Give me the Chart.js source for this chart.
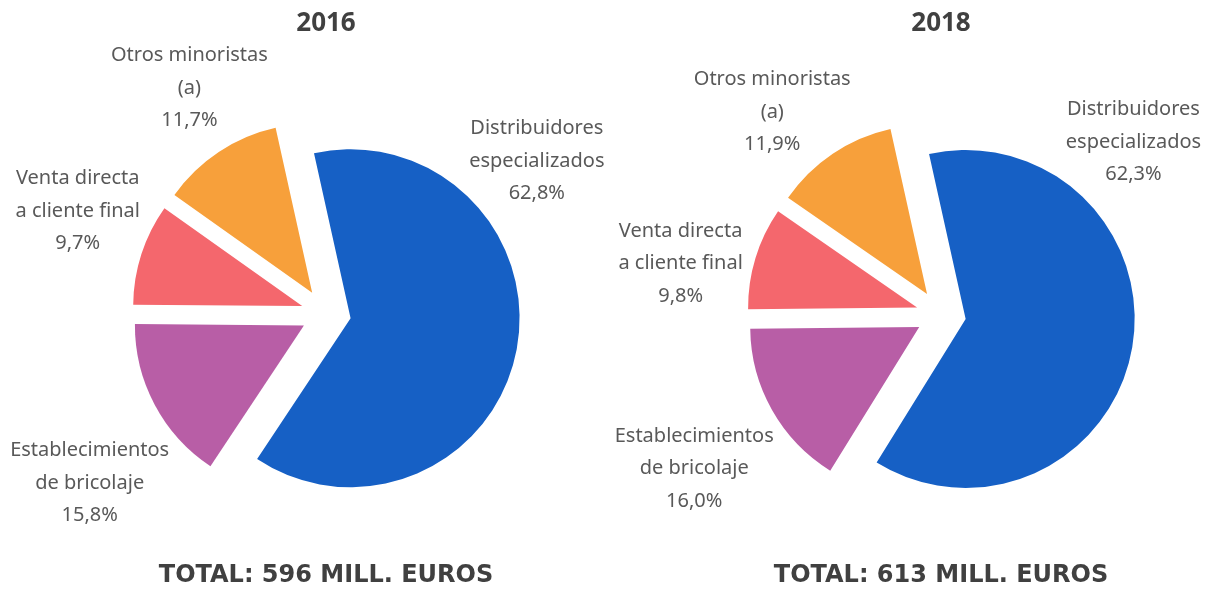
<!DOCTYPE html>
<html lang="es">
<head>
<meta charset="utf-8">
<title>Canales de venta 2016 - 2018</title>
<script src="https://cdn.jsdelivr.net/npm/chart.js@4/dist/chart.umd.min.js"></script>
<style>
  html, body { margin: 0; padding: 0; background: #fff; }
  .wrap { position: relative; width: 1208px; height: 592px; }
  .panel { position: absolute; top: 0; width: 604px; height: 592px; }
  #p2016 { left: 0; }
  #p2018 { left: 604px; }
</style>
</head>
<body>
<div class="wrap">
  <div class="panel" id="p2016"><canvas id="chart2016"></canvas></div>
  <div class="panel" id="p2018"><canvas id="chart2018"></canvas></div>
</div>
<script>
// Datos
const categorias = ['Distribuidores especializados', 'Establecimientos de bricolaje', 'Venta directa a cliente final', 'Otros minoristas (a)'];
const lineasEtiqueta = [['Distribuidores', 'especializados'], ['Establecimientos', 'de bricolaje'], ['Venta directa', 'a cliente final'], ['Otros minoristas', '(a)']];
const valores2016 = [62.8, 15.8, 9.7, 11.7];
const valores2018 = [62.3, 16.0, 9.8, 11.9];
const anios = ['2016', '2018'];
const totales = [596, 613];
const colores = ['#1660C5', '#B85EA6', '#F4676D', '#F7A03B'];

const fuente = "'Noto Sans', 'DejaVu Sans', sans-serif";
const fuenteTotal = "'DejaVu Sans', sans-serif";

function formatoPct(v) {
    return v.toFixed(1).replace('.', ',') + '%';
}

// separa las porciones del centro (pastel explotado)
const separarPorciones = {
    id: 'separarPorciones',
    afterDatasetUpdate(chart, args, opts) {
        const meta = args.meta;
        meta.data.forEach(arc => {
            arc.$base = { x: arc.x, y: arc.y };
            const mid = (arc.startAngle + arc.endAngle) / 2;
            arc.x = arc.$base.x + Math.cos(mid) * opts.distancia;
            arc.y = arc.$base.y + Math.sin(mid) * opts.distancia;
        });
    }
};

// etiquetas de datos con nombre y porcentaje
const etiquetasDatos = {
    id: 'etiquetasDatos',
    afterDatasetsDraw(chart, args, opts) {
        const ctx = chart.ctx;
        const meta = chart.getDatasetMeta(0);
        const valores = chart.data.datasets[0].data;
        ctx.save();
        ctx.font = '20px ' + fuente;
        ctx.fillStyle = '#595959';
        ctx.textAlign = 'center';
        ctx.textBaseline = 'middle';
        meta.data.forEach((arc, i) => {
            const pos = opts.posiciones[i];
            const ang = (pos[0] - 90) * Math.PI / 180;
            const r = arc.outerRadius * pos[1];
            const cx = arc.$base.x + Math.cos(ang) * r;
            const cy = arc.$base.y + Math.sin(ang) * r;
            const lineas = lineasEtiqueta[i].concat([formatoPct(valores[i])]);
            lineas.forEach((txt, k) => {
                ctx.fillText(txt, cx, cy + (k - 1) * opts.interlineado);
            });
        });
        ctx.restore();
    }
};

function crearGrafico(id, anio, total, valores, padIzq, padTitulo, posiciones) {
    return new Chart(document.getElementById(id), {
        type: 'pie',
        data: {
            labels: categorias,
            datasets: [{
                data: valores,
                backgroundColor: colores,
                borderWidth: 0
            }]
        },
        options: {
            responsive: true,
            maintainAspectRatio: false,
            animation: false,
            rotation: -12.5,
            radius: 169,
            layout: { padding: { left: padIzq, right: 0, top: 0, bottom: 0 } },
            plugins: {
                legend: { display: false },
                tooltip: { enabled: false },
                title: {
                    display: true,
                    text: anio,
                    color: '#404040',
                    font: { family: fuente, size: 26, weight: 'bold', lineHeight: 1.2 },
                    padding: { top: 8, bottom: padTitulo }
                },
                subtitle: {
                    display: true,
                    position: 'bottom',
                    text: 'TOTAL: ' + total + ' MILL. EUROS',
                    color: '#404040',
                    font: { family: fuenteTotal, size: 24, weight: 'bold', lineHeight: 1.2 },
                    padding: { top: 9, bottom: 2 }
                },
                separarPorciones: { distancia: 25 },
                etiquetasDatos: { posiciones: posiciones, interlineado: 32.5 }
            }
        },
        plugins: [separarPorciones, etiquetasDatos]
    });
}

crearGrafico('chart2016', anios[0], totales[0], valores2016, 48, 36,
    [[54.1, 1.54], [234.4, 1.72], [292.5, 1.59], [328.8, 1.56]]);
crearGrafico('chart2018', anios[1], totales[1], valores2018, 70, 38,
    [[48.1, 1.53], [238.1, 1.72], [281.1, 1.57], [320.2, 1.56]]);
</script>
</body>
</html>
